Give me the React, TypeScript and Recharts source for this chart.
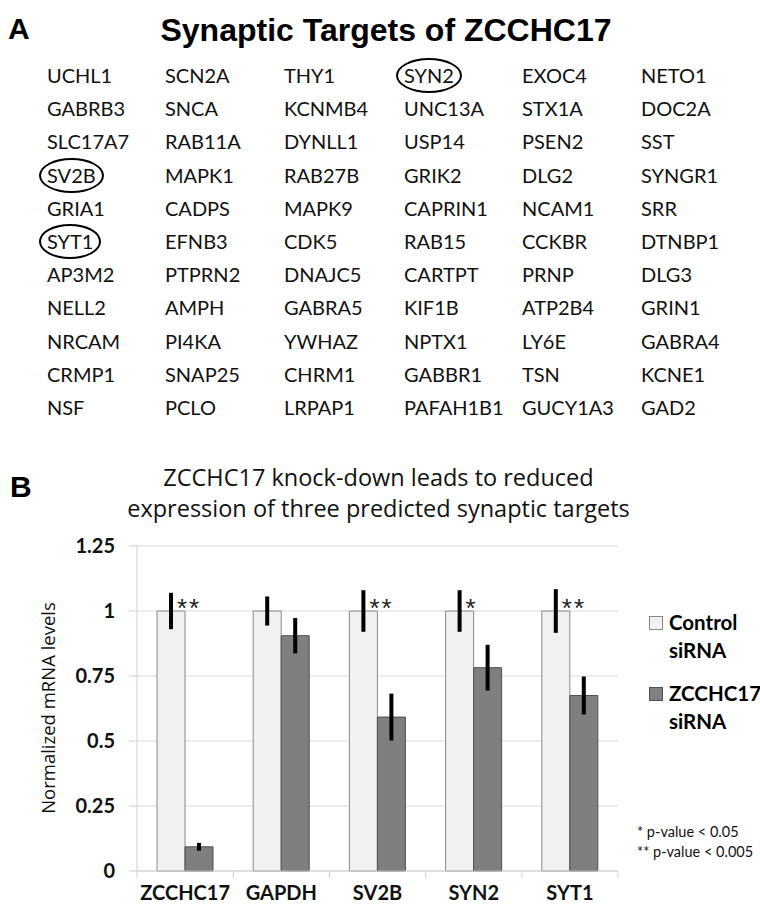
import { BarChart, Bar, XAxis, YAxis, CartesianGrid, ErrorBar, LabelList } from 'recharts';

// panel A: predicted synaptic targets, one list per column
const col1 = ['UCHL1', 'GABRB3', 'SLC17A7', 'SV2B', 'GRIA1', 'SYT1', 'AP3M2', 'NELL2', 'NRCAM', 'CRMP1', 'NSF'];
const col2 = ['SCN2A', 'SNCA', 'RAB11A', 'MAPK1', 'CADPS', 'EFNB3', 'PTPRN2', 'AMPH', 'PI4KA', 'SNAP25', 'PCLO'];
const col3 = ['THY1', 'KCNMB4', 'DYNLL1', 'RAB27B', 'MAPK9', 'CDK5', 'DNAJC5', 'GABRA5', 'YWHAZ', 'CHRM1', 'LRPAP1'];
const col4 = ['SYN2', 'UNC13A', 'USP14', 'GRIK2', 'CAPRIN1', 'RAB15', 'CARTPT', 'KIF1B', 'NPTX1', 'GABBR1', 'PAFAH1B1'];
const col5 = ['EXOC4', 'STX1A', 'PSEN2', 'DLG2', 'NCAM1', 'CCKBR', 'PRNP', 'ATP2B4', 'LY6E', 'TSN', 'GUCY1A3'];
const col6 = ['NETO1', 'DOC2A', 'SST', 'SYNGR1', 'SRR', 'DTNBP1', 'DLG3', 'GRIN1', 'GABRA4', 'KCNE1', 'GAD2'];
const circled = ['SYN2', 'SV2B', 'SYT1'];

// panel B: qPCR
const genes = ['ZCCHC17', 'GAPDH', 'SV2B', 'SYN2', 'SYT1'];
const control = [1, 1, 1, 1, 1];
const controlErr = [0.07, 0.056, 0.08, 0.08, 0.084];
const knockdown = [0.093, 0.905, 0.592, 0.782, 0.675];
const knockdownErr = [0.015, 0.068, 0.09, 0.088, 0.073];
const stars = ['**', '', '**', '*', '**'];
const yTicks = [0, 0.25, 0.5, 0.75, 1, 1.25];

const data = genes.map((g, i) => ({
  gene: g,
  control: control[i],
  controlErr: controlErr[i],
  knockdown: knockdown[i],
  knockdownErr: knockdownErr[i],
  stars: stars[i],
}));

const columns = [col1, col2, col3, col4, col5, col6];
const colX = [47, 165, 284, 404, 522, 641];

const legendItems = [
  { first: 'Control', second: 'siRNA', fill: '#f1f1f1', stroke: '#8a8a8a' },
  { first: 'ZCCHC17', second: 'siRNA', fill: '#7f7f7f', stroke: '#4f4f4f' },
];

function GeneTick(props: any) {
  const { x, y, payload, index } = props;
  const half = 48;
  return (
    <g>
      <line x1={x - half} x2={x - half} y1={y} y2={y + 7} stroke="#d0d0d0" />
      {index === genes.length - 1 && <line x1={x + half} x2={x + half} y1={y} y2={y + 7} stroke="#d0d0d0" />}
      <text x={x} y={y + 29} textAnchor="middle" fontFamily="Lato" fontWeight={700} fontSize={20} fill="#111">
        {payload.value}
      </text>
    </g>
  );
}

function StarLabel(props: any) {
  const vb = props.viewBox || props;
  const { value } = props;
  if (!value) return null;
  return (
    <text x={vb.x + vb.width / 2 + 6} y={vb.y + 6} fontFamily="Liberation Sans" fontSize={26} fill="#222" letterSpacing={2}>
      {value}
    </text>
  );
}

export default function App() {
  return (
    <div style={{ position: 'absolute', left: 0, top: 0, width: 760, height: 911, background: '#fff', overflow: 'hidden' }}>
      <div style={{ position: 'absolute', left: 8, top: 12, fontFamily: 'Liberation Sans', fontWeight: 700, fontSize: 30, lineHeight: '34px' }}>A</div>
      <div style={{ position: 'absolute', left: 0, width: 772, top: 11, textAlign: 'center', fontFamily: 'Liberation Sans', fontWeight: 700, fontSize: 32, lineHeight: '38px' }}>
        Synaptic Targets of ZCCHC17
      </div>

      {columns.map((col, c) =>
        col.map((g, r) => (
          <div key={g} style={{ position: 'absolute', left: colX[c], top: 75 + r * 33.2 - 13, fontFamily: 'Lato', fontSize: 20, lineHeight: '26px', color: '#111' }}>
            <span style={{ position: 'relative', display: 'inline-block' }}>
              {g}
              {circled.includes(g) && (
                <span style={{ position: 'absolute', left: -8, right: -8, top: -4, bottom: -5, border: '2px solid #000', borderRadius: '50%' }} />
              )}
            </span>
          </div>
        ))
      )}

      <div style={{ position: 'absolute', left: 10, top: 470, fontFamily: 'Liberation Sans', fontWeight: 700, fontSize: 30, lineHeight: '34px' }}>B</div>
      <div style={{ position: 'absolute', left: 0, width: 757, top: 462, textAlign: 'center', fontFamily: 'Open Sans', fontSize: 23.5, lineHeight: '31px', color: '#111' }}>
        ZCCHC17 knock-down leads to reduced
        <br />
        expression of three predicted synaptic targets
      </div>

      <div style={{ position: 'absolute', left: 47, top: 708, transform: 'translate(-50%, -50%) rotate(-90deg)', whiteSpace: 'nowrap', fontFamily: 'Open Sans', fontSize: 18.5, color: '#111' }}>
        Normalized mRNA levels
      </div>

      <div style={{ position: 'absolute', left: 649, top: 608, fontFamily: 'Lato', fontWeight: 700, fontSize: 20.5, lineHeight: '28px', color: '#000' }}>
        {legendItems.map((it) => (
          <div key={it.first} style={{ display: 'flex', alignItems: 'flex-start', marginBottom: 15 }}>
            <span style={{ width: 12, height: 12, marginTop: 8, marginRight: 6, background: it.fill, border: `1px solid ${it.stroke}`, flexShrink: 0 }} />
            <span>
              {it.first}
              <br />
              {it.second}
            </span>
          </div>
        ))}
      </div>

      <div style={{ position: 'absolute', left: 637, top: 822, fontFamily: 'Lato', fontSize: 14.5, lineHeight: '20px', color: '#111' }}>
        * p-value &lt; 0.05
        <br />
        ** p-value &lt; 0.005
      </div>

      <div style={{ position: 'absolute', left: 0, top: 440 }}>
        <BarChart width={760} height={471} data={data} margin={{ top: 106, right: 142, bottom: 0, left: 0 }} barGap={0} barSize={28}>
          <CartesianGrid vertical={false} stroke="#d9d9d9" />
          <XAxis dataKey="gene" height={40} axisLine={{ stroke: '#d0d0d0' }} tickLine={false} tickSize={0} tickMargin={0} tick={<GeneTick />} interval={0} />
          <YAxis
            width={137}
            domain={[0, 1.25]}
            ticks={yTicks}
            interval={0}
            axisLine={{ stroke: '#d0d0d0' }}
            tickLine={{ stroke: '#d0d0d0' }}
            tickSize={8}
            tickMargin={14}
            tick={{ fontFamily: 'Lato', fontWeight: 700, fontSize: 20, fill: '#111' }}
          />
          <Bar dataKey="control" name="Control siRNA" fill="#f1f1f1" stroke="#8a8a8a" isAnimationActive={false}>
            <ErrorBar dataKey="controlErr" width={0} strokeWidth={4} stroke="#000" />
            <LabelList dataKey="stars" content={<StarLabel />} />
          </Bar>
          <Bar dataKey="knockdown" name="ZCCHC17 siRNA" fill="#7f7f7f" stroke="#4f4f4f" isAnimationActive={false}>
            <ErrorBar dataKey="knockdownErr" width={0} strokeWidth={4} stroke="#000" />
          </Bar>
        </BarChart>
      </div>
    </div>
  );
}
